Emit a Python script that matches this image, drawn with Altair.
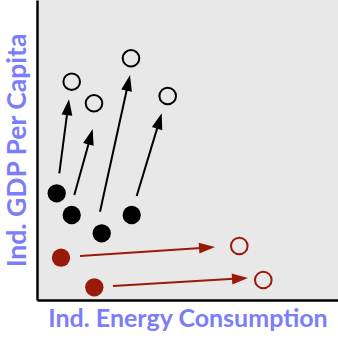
import math
import altair as alt
import pandas as pd

# Data units (arbitrary)
black_start_x = [19.7, 34.7, 64.7, 94.7]
black_start_y = [106.7, 85.0, 66.7, 85.0]
black_end_x = [34.7, 57.0, 94.0, 130.7]
black_end_y = [218.3, 196.7, 241.7, 204.0]

red_start_x = [24.0, 57.3]
red_start_y = [42.3, 12.7]
red_end_x = [202.3, 226.3]
red_end_y = [54.0, 20.0]

# arrows: tail and tip
black_arrow_x = [22.3, 37.3, 63.0, 99.7]
black_arrow_y = [126.7, 105.0, 88.3, 104.0]
black_tip_x = [32.0, 55.7, 93.0, 124.7]
black_tip_y = [200.7, 171.0, 225.0, 186.7]

red_arrow_x = [43.0, 76.0]
red_arrow_y = [44.0, 14.0]
red_tip_x = [178.0, 211.0]
red_tip_y = [53.0, 22.0]

BLACK = "#000000"
RED = "#9a1a0a"
TITLE = "#7b7ef8"

xs = alt.Scale(domain=[0, 301], nice=False, zero=False)
ys = alt.Scale(domain=[0, 300], nice=False, zero=False)

x_axis = alt.Axis(title="Ind. Energy Consumption", labels=False, ticks=False, grid=False,
                  domainColor="black", domainWidth=2.5, titleFont="Lato", titleFontSize=25,
                  titleFontWeight="bold", titleColor=TITLE, titlePadding=6)
y_axis = alt.Axis(title="Ind. GDP Per Capita", labels=False, ticks=False, grid=False,
                  domainColor="black", domainWidth=2.5, titleFont="Lato", titleFontSize=26.5,
                  titleFontWeight="bold", titleColor=TITLE, titlePadding=6)


def arrows(x0, y0, x1, y1, color):
    rows = []
    for a, b, c, d in zip(x0, y0, x1, y1):
        dx, dy = c - a, d - b
        L = math.hypot(dx, dy)
        ex, ey = c - dx / L * 10, d - dy / L * 10
        ang = math.degrees(math.atan2(dx, dy)) % 360
        rows.append(dict(x=a, y=b, x2=ex, y2=ey, tx=c, ty=d, angle=ang, color=color))
    return pd.DataFrame(rows)


arr = pd.concat([arrows(black_arrow_x, black_arrow_y, black_tip_x, black_tip_y, "black"),
                 arrows(red_arrow_x, red_arrow_y, red_tip_x, red_tip_y, "red")])

pts_filled = pd.DataFrame({
    "x": black_start_x + red_start_x,
    "y": black_start_y + red_start_y,
    "color": ["black"] * 4 + ["red"] * 2,
})
pts_open = pd.DataFrame({
    "x": black_end_x + red_end_x,
    "y": black_end_y + red_end_y,
    "color": ["black"] * 4 + ["red"] * 2,
})

cscale = alt.Scale(domain=["black", "red"], range=[BLACK, RED])

base_x = alt.X("x:Q", scale=xs, axis=x_axis)
base_y = alt.Y("y:Q", scale=ys, axis=y_axis)

lines = alt.Chart(arr).mark_rule(strokeWidth=2).encode(
    x=base_x, y=base_y, x2="x2:Q", y2="y2:Q",
    color=alt.Color("color:N", scale=cscale, legend=None))

heads = alt.Chart(arr).mark_point(
    shape="M0,0 L0.68,2 L-0.68,2 Z", size=256, filled=True, opacity=1, strokeWidth=0
).encode(
    x=alt.X("tx:Q", scale=xs), y=alt.Y("ty:Q", scale=ys),
    angle=alt.Angle("angle:Q", scale=None),
    color=alt.Color("color:N", scale=cscale, legend=None))

filled = alt.Chart(pts_filled).mark_circle(size=335, opacity=1).encode(
    x=base_x, y=base_y, color=alt.Color("color:N", scale=cscale, legend=None))

opened = alt.Chart(pts_open).mark_point(shape="circle", size=275, filled=False,
                                        strokeWidth=2, opacity=1).encode(
    x=base_x, y=base_y, color=alt.Color("color:N", scale=cscale, legend=None))

chart = alt.layer(lines, heads, filled, opened).properties(
    width=301, height=300,
    autosize=alt.AutoSizeParams(type="none"),
    padding={"left": 37, "top": 0, "right": 0, "bottom": 38},
    background="white",
).configure_view(fill="#e8e8e8", stroke=None)

chart.save("out.html", embed_options={"renderer": "svg", "actions": False})
